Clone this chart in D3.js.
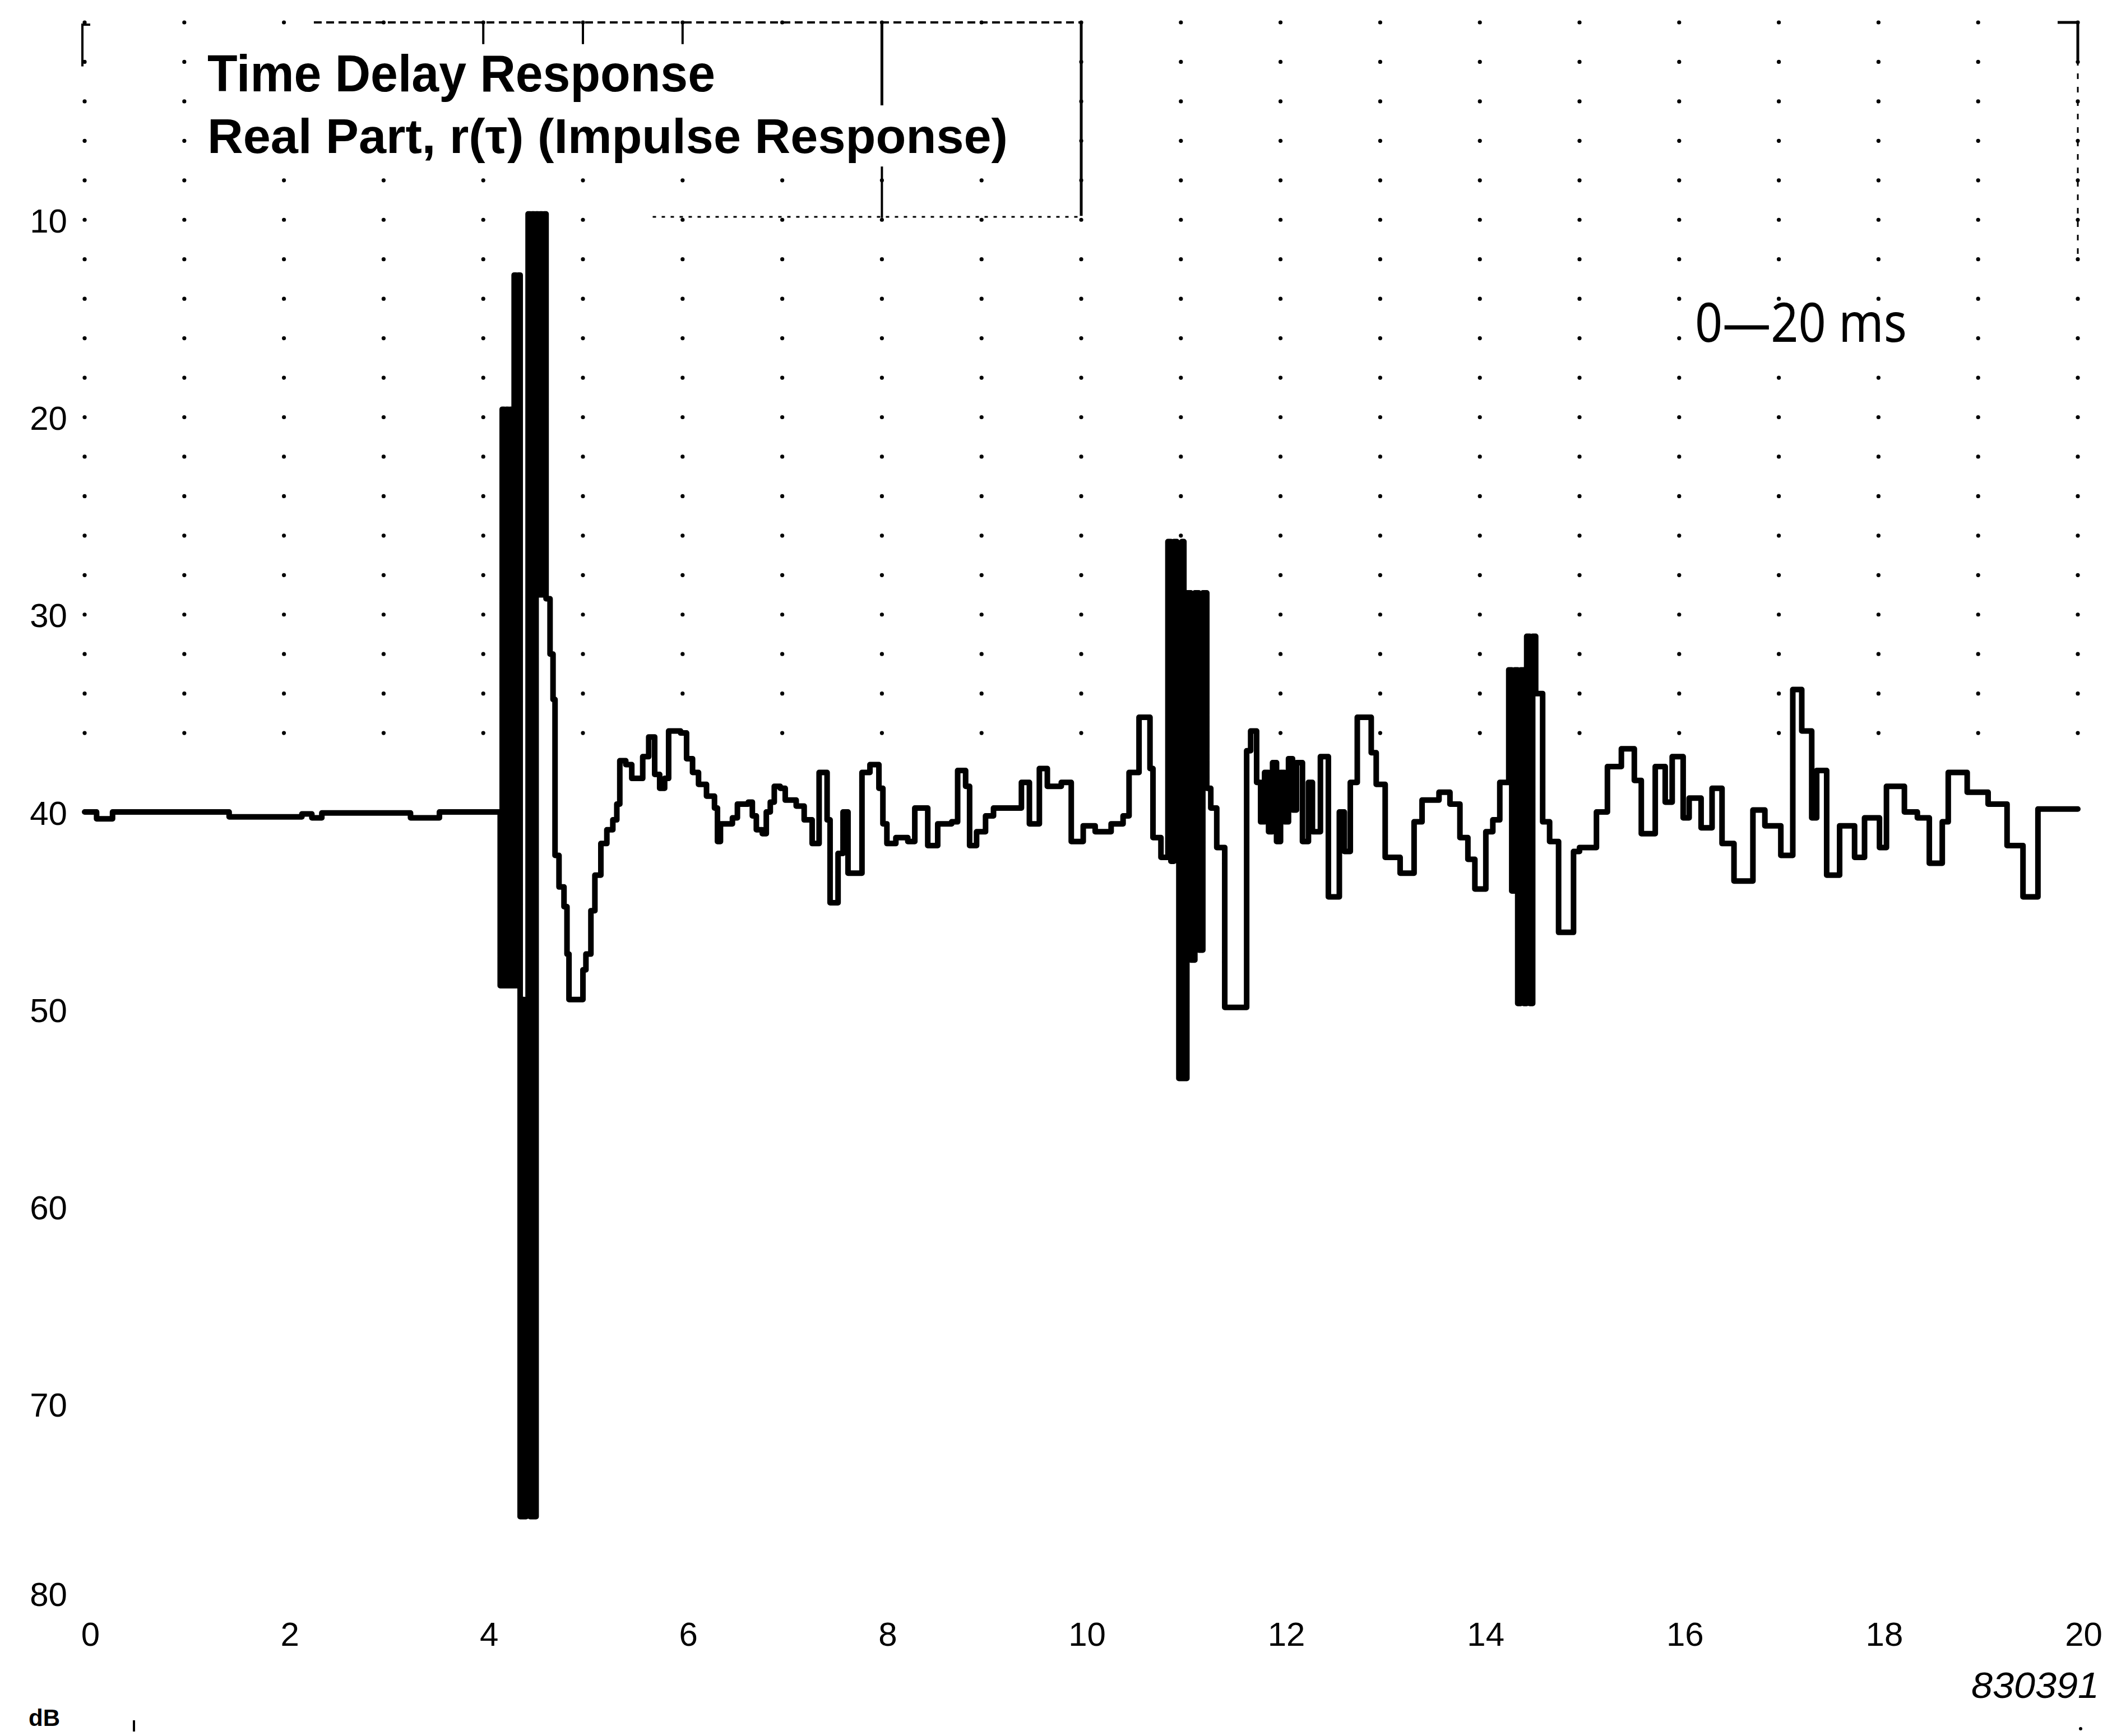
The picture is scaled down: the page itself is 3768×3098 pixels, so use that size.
<!DOCTYPE html>
<html>
<head>
<meta charset="utf-8">
<script src="https://cdn.jsdelivr.net/npm/d3@7"></script>
<style>
  html, body { margin: 0; padding: 0; background: #fff; }
  svg { display: block; }
</style>
</head>
<body>
<script>
// ---- data ----
const timeMs = [
  0.00, 0.12, 0.28, 1.45, 2.18, 2.28, 2.38, 3.27, 3.56,
  4.17, 4.19, 4.21, 4.23, 4.25, 4.27, 4.29, 4.31, 4.33, 4.35, 4.37, 4.39, 4.41, 4.43,
  4.45, 4.47, 4.49, 4.51, 4.53, 4.55, 4.57, 4.59, 4.61, 4.63, 4.67, 4.70, 4.72, 4.76,
  4.81, 4.84, 4.86, 5.00, 5.03, 5.08, 5.12, 5.18, 5.24, 5.30, 5.34, 5.37, 5.43, 5.49,
  5.60, 5.66, 5.72, 5.77, 5.82, 5.86, 5.98, 6.04, 6.10, 6.16, 6.24, 6.32, 6.35, 6.38,
  6.50, 6.55, 6.66, 6.70, 6.74, 6.80, 6.84, 6.88, 6.92, 6.98, 7.03, 7.14, 7.22, 7.30,
  7.37, 7.45, 7.48, 7.56, 7.61, 7.66, 7.80, 7.88, 7.97, 8.01, 8.05, 8.14, 8.26, 8.33,
  8.46, 8.56, 8.70, 8.76, 8.84, 8.88, 8.95, 9.04, 9.12, 9.28, 9.40, 9.48, 9.58, 9.66,
  9.80, 9.90, 10.02, 10.14, 10.30, 10.42, 10.48, 10.58, 10.69, 10.72, 10.80,
  10.87, 10.90, 10.93, 10.96, 10.98, 11.01, 11.03, 11.06, 11.10, 11.14, 11.18, 11.22,
  11.26, 11.30, 11.36, 11.44, 11.66, 11.70, 11.76, 11.80, 11.84, 11.88, 11.92, 11.96,
  12.00, 12.04, 12.08, 12.12, 12.16, 12.22, 12.28, 12.32, 12.40, 12.48, 12.59, 12.64,
  12.70, 12.77, 12.91, 12.96, 13.05, 13.20, 13.34, 13.42, 13.59, 13.70, 13.80, 13.88,
  13.95, 14.06, 14.13, 14.20, 14.29, 14.32, 14.35, 14.38, 14.41, 14.44, 14.47, 14.50,
  14.53, 14.56, 14.63, 14.70, 14.79, 14.94, 15.00, 15.17, 15.28, 15.42, 15.55, 15.62,
  15.76, 15.86, 15.93, 16.04, 16.10, 16.22, 16.33, 16.43, 16.55, 16.74, 16.86, 17.02,
  17.14, 17.23, 17.33, 17.38, 17.48, 17.61, 17.76, 17.86, 18.01, 18.08, 18.26, 18.39,
  18.51, 18.64, 18.70, 18.89, 19.10, 19.29, 19.45, 19.60, 20.00
];
const levelDb = [
  40.0, 40.35, 40.0, 40.25, 40.1, 40.3, 40.05, 40.3, 40.0,
  48.8, 19.6, 48.8, 19.6, 48.8, 19.6, 48.8, 12.8, 48.8, 12.8, 75.7, 49.5, 75.7, 49.5,
  9.7, 75.7, 9.7, 75.7, 9.7, 29.0, 9.7, 29.0, 9.7, 29.2, 32.0, 34.3, 42.2, 43.8,
  44.8, 47.2, 49.5, 48.0, 47.2, 45.0, 43.2, 41.6, 40.9, 40.4, 39.6, 37.4, 37.6, 38.3,
  37.2, 36.2, 38.1, 38.8, 38.3, 35.9, 36.0, 37.3, 38.0, 38.6, 39.2, 39.8, 41.5, 40.6,
  40.3, 39.6, 39.5, 40.2, 40.9, 41.1, 40.0, 39.5, 38.7, 38.8, 39.4, 39.7, 40.4, 41.6,
  38.0, 40.4, 44.6, 42.1, 40.0, 43.1, 38.0, 37.6, 38.8, 40.6, 41.6, 41.3, 41.5, 39.8,
  41.7, 40.6, 40.5, 37.9, 38.7, 41.7, 41.0, 40.2, 39.8, 39.8, 38.5, 40.6, 37.8, 38.7,
  38.5, 41.5, 40.7, 41.0, 40.6, 40.2, 38.0, 35.2, 37.8, 41.3, 42.3,
  26.3, 42.5, 26.3, 42.0, 53.5, 26.3, 53.5, 28.9, 47.5, 28.9, 47.0, 28.9,
  38.8, 39.8, 41.8, 49.9, 36.9, 35.9, 38.5, 40.5, 38.0, 41.0, 37.5, 41.5,
  38.0, 40.5, 37.3, 39.9, 37.5, 41.5, 38.5, 41.0, 37.2, 44.3, 40.0, 42.0,
  38.5, 35.2, 37.0, 38.6, 42.3, 43.1, 40.5, 39.4, 39.0, 39.6, 41.3, 42.4,
  43.9, 41.0, 40.4, 38.5, 32.8, 44.0, 32.8, 49.7, 32.8, 49.7, 31.1, 49.7,
  31.1, 34.0, 40.5, 41.5, 46.1, 42.0, 41.8, 40.0, 37.7, 36.8, 38.4, 41.1,
  37.7, 39.5, 37.2, 40.3, 39.3, 40.8, 38.8, 41.6, 43.5, 39.9, 40.7, 42.2,
  33.8, 35.9, 40.3, 37.9, 43.2, 40.7, 42.3, 40.3, 41.8, 38.7, 40.0, 40.3,
  42.6, 40.5, 38.0, 39.0, 39.6, 41.7, 44.3, 39.85, 39.85
];
const xTicks = [0, 2, 4, 6, 8, 10, 12, 14, 16, 18, 20];
const yTicks = [10, 20, 30, 40, 50, 60, 70, 80];
const gridCols = d3.range(0, 21, 1);
const gridRows = d3.range(0, 37, 2);
const titleLines = ["Time Delay Response", "Real Part, r(\u03C4) (Impulse Response)"];
const rangeLabel = "0\u201420 ms";
const figNumber = "830391";
const unitLabel = "dB";

// ---- setup ----
const W = 3768, H = 3098;
const x = d3.scaleLinear().domain([0, 20]).range([151, 3707]);
const y = d3.scaleLinear().domain([0, 80]).range([40, 2858]);

const svg = d3.select("body").append("svg")
  .attr("width", W).attr("height", H)
  .attr("viewBox", `0 0 ${W} ${H}`);
svg.append("rect").attr("width", W).attr("height", H).attr("fill", "#fff");

// ---- dotted grid (upper part only, as printed) ----
const dots = [];
gridCols.forEach(c => gridRows.forEach(r => {
  const inTitle = c >= 2 && c <= 9 && r >= 2 && r <= 6;
  const inRange = (c === 17 || c === 18) && r === 16;
  if (!inTitle && !inRange) dots.push({ c, r });
}));
svg.append("g").selectAll("circle").data(dots).join("circle")
  .attr("cx", d => x(d.c)).attr("cy", d => y(d.r))
  .attr("r", 3.6).attr("fill", "#000");

// ---- frame brackets and title box ----
const deco = svg.append("g").attr("fill", "none").attr("stroke", "#000");
// top-left bracket
deco.append("path").attr("stroke-width", 4)
  .attr("d", `M${x(0) + 10},${y(0) + 4} H${x(0) - 4} V${y(2) + 8}`);
// top-right bracket
deco.append("path").attr("stroke-width", 5)
  .attr("d", `M${x(20) - 36},${y(0)} H${x(20)} V${y(1.9)}`);
deco.append("line").attr("stroke-width", 3).attr("stroke-dasharray", "10,14")
  .attr("x1", x(20)).attr("x2", x(20)).attr("y1", y(1.9)).attr("y2", y(12));
// title box top edge (dotted/dashed)
deco.append("line").attr("stroke-width", 4).attr("stroke-dasharray", "14,8")
  .attr("x1", x(2.3)).attr("x2", x(10)).attr("y1", y(0)).attr("y2", y(0));
// title box right edge at 10 ms
deco.append("line").attr("stroke-width", 5)
  .attr("x1", x(10)).attr("x2", x(10)).attr("y1", y(0)).attr("y2", y(9.8));
// vertical at 8 ms (broken by text)
deco.append("line").attr("stroke-width", 5)
  .attr("x1", x(8)).attr("x2", x(8)).attr("y1", y(0)).attr("y2", y(4.2));
deco.append("line").attr("stroke-width", 4)
  .attr("x1", x(8)).attr("x2", x(8)).attr("y1", y(7.3)).attr("y2", y(9.9));
// short ticks at 4, 5, 6 ms near top
[4, 5, 6].forEach(c => {
  deco.append("line").attr("stroke-width", 4)
    .attr("x1", x(c)).attr("x2", x(c)).attr("y1", y(0)).attr("y2", y(1.1));
});
// bottom edge of title box (dotted)
deco.append("line").attr("stroke-width", 3).attr("stroke-dasharray", "6,10")
  .attr("x1", x(5.7)).attr("x2", x(10)).attr("y1", y(9.85)).attr("y2", y(9.85));

// ---- trace ----
const data = timeMs.map((t, i) => ({ t, v: levelDb[i] }));
const line = d3.line()
  .x(d => x(d.t)).y(d => y(d.v))
  .curve(d3.curveStepAfter);
svg.append("path").datum(data)
  .attr("d", line)
  .attr("fill", "none")
  .attr("stroke", "#000")
  .attr("stroke-width", 10)
  .attr("stroke-linejoin", "round")
  .attr("stroke-linecap", "round");

// ---- axes (labels only, as in the plot) ----
const xAxis = d3.axisBottom(x).tickValues(xTicks).tickSize(0).tickPadding(0)
  .tickFormat(d3.format("d"));
const gx = svg.append("g").attr("transform", `translate(10, ${2937})`).call(xAxis);
gx.select(".domain").remove();
gx.selectAll("text")
  .attr("y", 0).attr("dy", 0)
  .attr("font-family", "'Liberation Sans', Arial, sans-serif")
  .attr("font-size", 60).attr("fill", "#000");

const yAxis = d3.axisLeft(y).tickValues(yTicks.filter(v => v !== 80)).tickSize(0).tickPadding(0)
  .tickFormat(d3.format("d"));
const gy = svg.append("g").attr("transform", `translate(120, 0)`).call(yAxis);
gy.select(".domain").remove();
gy.selectAll("text")
  .attr("x", 0).attr("dy", 22)
  .attr("font-family", "'Liberation Sans', Arial, sans-serif")
  .attr("font-size", 60).attr("fill", "#000");
// the 80 label sits a little higher, next to the time axis
svg.append("text")
  .attr("x", 120).attr("y", y(80) + 8)
  .attr("text-anchor", "end")
  .attr("font-family", "'Liberation Sans', Arial, sans-serif")
  .attr("font-size", 60).attr("fill", "#000")
  .text(yTicks[yTicks.length - 1]);

// ---- texts ----
svg.append("text")
  .attr("x", 370).attr("y", 163)
  .attr("font-family", "'Liberation Sans', Arial, sans-serif")
  .attr("font-size", 92).attr("font-weight", "bold")
  .attr("textLength", 906).attr("lengthAdjust", "spacingAndGlyphs")
  .text(titleLines[0]);
svg.append("text")
  .attr("x", 370).attr("y", 273)
  .attr("font-family", "'Liberation Sans', Arial, sans-serif")
  .attr("font-size", 88).attr("font-weight", "bold")
  .attr("textLength", 1428).attr("lengthAdjust", "spacingAndGlyphs")
  .text(titleLines[1]);

svg.append("text")
  .attr("x", 3024).attr("y", 610)
  .attr("font-family", "'Noto Sans', 'Open Sans', sans-serif")
  .attr("font-size", 96)
  .attr("textLength", 378).attr("lengthAdjust", "spacingAndGlyphs")
  .text(rangeLabel);

svg.append("text")
  .attr("x", 3517).attr("y", 3030)
  .attr("font-family", "'Liberation Sans', Arial, sans-serif")
  .attr("font-size", 64).attr("font-style", "italic")
  .attr("textLength", 228).attr("lengthAdjust", "spacingAndGlyphs")
  .text(figNumber);

svg.append("text")
  .attr("x", 51).attr("y", 3080)
  .attr("font-family", "'Liberation Sans', Arial, sans-serif")
  .attr("font-size", 42).attr("font-weight", "bold")
  .text(unitLabel);

// small stray marks at bottom
svg.append("line").attr("x1", 239).attr("x2", 239).attr("y1", 3070).attr("y2", 3090)
  .attr("stroke", "#000").attr("stroke-width", 4);
svg.append("circle").attr("cx", x(20) + 5).attr("cy", 3085).attr("r", 3).attr("fill", "#000");
</script>
</body>
</html>
